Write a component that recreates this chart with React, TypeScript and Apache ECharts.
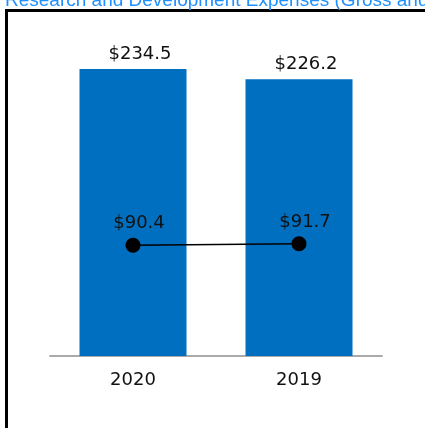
import React, { useEffect, useRef } from "react";
import * as echarts from "echarts";

const categories = ["2020", "2019"];
const barValues = [234.5, 226.2];
const lineValues = [90.4, 91.7];
const titleText = "Research and Development Expenses (Gross and Net)";

export default function App() {
  const ref = useRef<HTMLDivElement>(null);
  useEffect(() => {
    const chart = echarts.init(ref.current!, null, { renderer: "svg" });
    const labelFont = {
      color: "#111",
      fontSize: 18,
      fontFamily: "'DejaVu Sans', sans-serif",
    };
    chart.setOption({
      animation: false,
      graphic: [
        {
          type: "rect",
          z: 0,
          shape: { x: 6.5, y: 10.5, width: 700, height: 700 },
          style: { fill: "none", stroke: "#000", lineWidth: 3 },
        },
        {
          type: "text",
          x: 5,
          y: 8.5,
          style: {
            text: titleText,
            fill: "#1e90ff",
            font: "19px 'Liberation Sans', Arial, sans-serif",
            verticalAlign: "bottom",
          },
        },
      ],
      grid: { left: 50, right: 43, top: 69, bottom: 72 },
      xAxis: {
        type: "category",
        data: categories,
        axisLine: { lineStyle: { color: "#aaaaaa", width: 2 } },
        axisTick: { show: false },
        axisLabel: { margin: 13, ...labelFont },
      },
      yAxis: { type: "value", min: 0, max: 234.5, show: false, splitLine: { show: false } },
      series: [
        {
          type: "bar",
          data: barValues,
          barWidth: 107,
          itemStyle: { color: "#006fc0" },
          label: {
            show: true,
            position: "top",
            distance: 8,
            offset: [7, 0],
            formatter: (p: any) => "$" + p.value.toFixed(1),
            ...labelFont,
          },
        },
        {
          type: "line",
          data: lineValues,
          symbol: "circle",
          symbolSize: 15,
          itemStyle: { color: "#000" },
          lineStyle: { color: "#000", width: 1.5 },
          label: {
            show: true,
            position: "top",
            distance: 7,
            offset: [6, 0],
            formatter: (p: any) => "$" + p.value.toFixed(1),
            ...labelFont,
          },
        },
      ],
    });
    return () => chart.dispose();
  }, []);
  return (
    <div
      ref={ref}
      style={{ position: "fixed", left: 0, top: 0, width: 425, height: 428 }}
    />
  );
}
